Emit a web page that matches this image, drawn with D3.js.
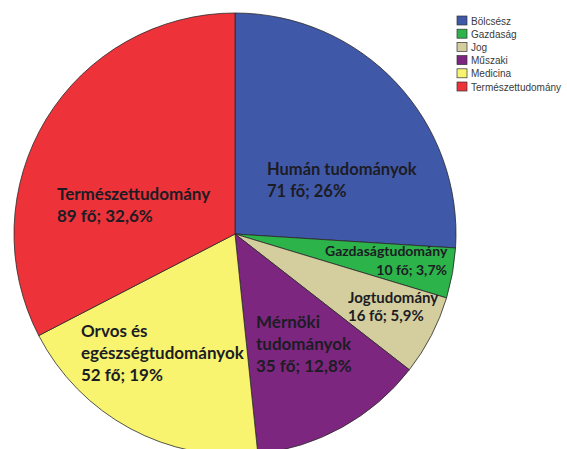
<!DOCTYPE html>
<html><head><meta charset="utf-8">
<script src="https://cdn.jsdelivr.net/npm/d3@7"></script>
<style>body{margin:0;background:#fff}svg{display:block}</style>
</head><body>
<svg id="chart" width="567" height="449"></svg>
<script>
// Hallgatók megoszlása karok szerint
const categories = ["Bölcsész", "Gazdaság", "Jog", "Műszaki", "Medicina", "Természettudomány"];
const counts = [71, 10, 16, 35, 52, 89];
const percents = ["26%", "3,7%", "5,9%", "12,8%", "19%", "32,6%"];
const sliceNames = [["Humán tudományok"], ["Gazdaságtudomány"], ["Jogtudomány"],
  ["Mérnöki", "tudományok"], ["Orvos és", "egészségtudományok"], ["Természettudomány"]];
const colors = ["#4058a8", "#2cb34a", "#d4ce9e", "#7d2680", "#f8f46f", "#ee3239"];

const svg = d3.select("#chart");
const cx = 235, cy = 234, R = 221;

const pie = d3.pie().sort(null).value(d => d)(counts);
const arc = d3.arc().innerRadius(0).outerRadius(R);

const g = svg.append("g").attr("transform", `translate(${cx},${cy})`);
g.selectAll("path").data(pie).join("path")
  .attr("d", arc)
  .attr("fill", (d, i) => colors[i])
  .attr("stroke", "#2a2a2a")
  .attr("stroke-width", 0.8);

// label anchors (relative to the pie centre), font size, alignment of count line
const labelPos = [
  {x: 32, y: -59, size: 16.5},
  {x: 90, y: 22, size: 14, right: true},
  {x: 113, y: 69, size: 15},
  {x: 21, y: 94, size: 17},
  {x: -154, y: 103, size: 17},
  {x: -178, y: -34, size: 17}
];
const lineGap = [22, 19, 18, 22, 22, 22];

pie.forEach((d, i) => {
  const p = labelPos[i];
  const lines = sliceNames[i].concat([`${counts[i]} fő; ${percents[i]}`]);
  const t = g.append("text")
    .attr("font-family", "Lato, 'Open Sans', sans-serif")
    .attr("font-weight", "bold")
    .attr("font-size", p.size)
    .attr("fill", "#1c1c24");
  lines.forEach((ln, j) => {
    const last = j === lines.length - 1;
    const ts = t.append("tspan").attr("y", p.y + j * lineGap[i]).text(ln);
    if (p.right && last) ts.attr("x", p.x + 122).attr("text-anchor", "end");
    else ts.attr("x", p.x);
  });
});

// legend
const lg = svg.append("g").attr("transform", "translate(457,16)");
const row = lg.selectAll("g").data(categories).join("g")
  .attr("transform", (d, i) => `translate(0,${i * 13.2})`);
row.append("rect").attr("width", 10).attr("height", 9)
  .attr("fill", (d, i) => colors[i]).attr("stroke", "#333").attr("stroke-width", 0.7);
row.append("text").attr("x", 14).attr("y", 8.5)
  .attr("font-family", "Liberation Sans, Arial, sans-serif")
  .attr("font-size", 10).attr("fill", "#3a3a3a").text(d => d);
</script>
</body></html>
